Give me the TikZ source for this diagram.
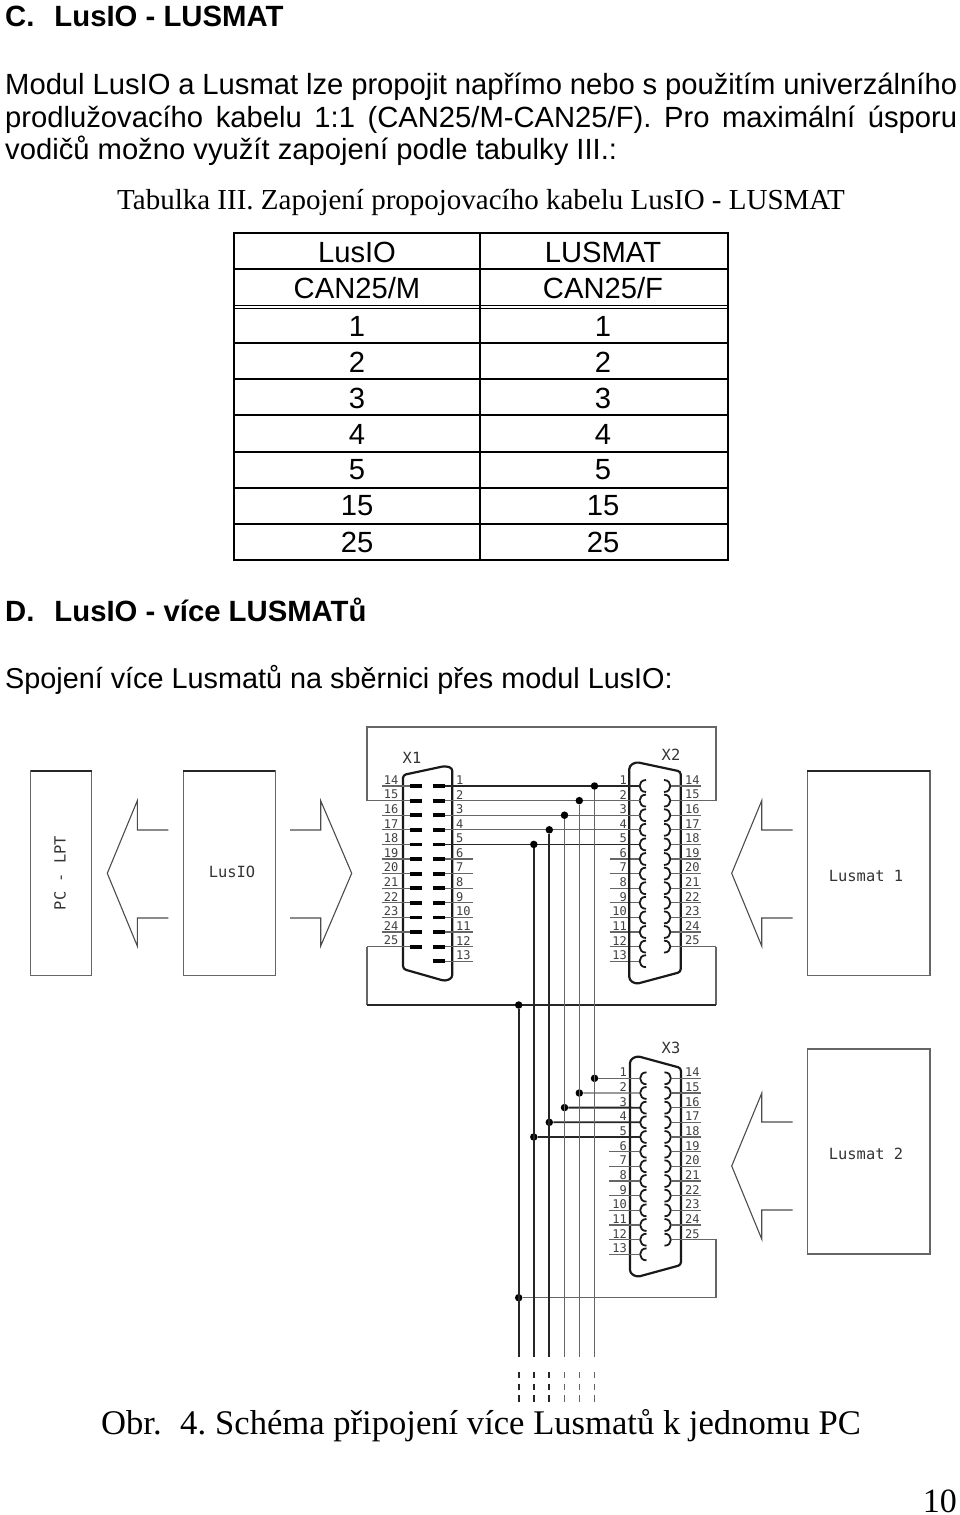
\documentclass[tikz,border=0pt]{standalone}
\usepackage{fontspec}
\setmainfont{Liberation Sans}
\newfontfamily\romanfont{Liberation Serif}
\newfontfamily\cadfont{DejaVu Sans Mono}
\usetikzlibrary{shapes,arrows,positioning}
\definecolor{wiregray}{gray}{0.4}
\tikzstyle{line} = [draw, line width=1.2pt, color=wiregray]
\tikzstyle{wire} = [draw, line width=1.8pt, color=black!85]
\tikzstyle{shell} = [draw, line width=2.2pt, rounded corners=3pt, color=black!90]
\tikzstyle{pad} = [draw, line width=3.8pt, color=black]
\tikzstyle{socket} = [draw, line width=1.8pt, color=black!90]
\tikzstyle{junction} = [circle, fill, inner sep=0pt, minimum size=7.5pt, color=black]
\tikzstyle{module} = [draw, line width=1.1pt, color=wiregray]
\tikzstyle{sharp} = [draw, line width=1.1pt, color=black!70]
\tikzstyle{body} = [anchor=base west, inner sep=0pt, font=\fontsize{29.2}{34}\selectfont]
\tikzstyle{head} = [anchor=base west, inner sep=0pt, font=\fontsize{29.3}{34}\selectfont\bfseries]
\tikzstyle{cell} = [inner sep=0pt, font=\fontsize{29.2}{34}\selectfont]
\tikzstyle{rule} = [draw, line width=2.3pt, color=black]
\tikzstyle{pinno} = [inner sep=0pt, font=\cadfont\fontsize{12}{12}\selectfont, color=black!75]
\tikzstyle{cadtext} = [inner sep=0pt, font=\cadfont\fontsize{15.4}{15.4}\selectfont, color=black!80]
\begin{document}
\begin{tikzpicture}[x=1pt, y=-1pt]
	\useasboundingbox (0,0) rectangle (960,1515);

	% text above the table
	\node [head] (titleC) at (5,26) {C.\hspace{20pt}LusIO - LUSMAT};
	\node [body] (para1) at (5,94) {\makebox[952pt][s]{Modul LusIO a Lusmat lze propojit napřímo nebo s použitím univerzálního}};
	\node [body] (para2) at (5,127) {\makebox[952pt][s]{prodlužovacího kabelu 1:1 (CAN25/M-CAN25/F). Pro maximální úsporu}};
	\node [body] (para3) at (5,159) {vodičů možno využít zapojení podle tabulky III.:};
	\node [anchor=base west, inner sep=0pt, font=\romanfont\fontsize{29}{34}\selectfont] (tabcap) at (117,209) {Tabulka III. Zapojení propojovacího kabelu LusIO - LUSMAT};

	% table
	\path [rule] (234,233) rectangle (728,560);
	\path [rule] (480,233) -- (480,560);
	\foreach \rowy in {269,343,379,415,452,488,524}
		\path [rule] (234,\rowy) -- (728,\rowy);
	\path [draw, line width=1pt] (234,305) -- (728,305);
	\path [draw, line width=1pt] (234,308) -- (728,308);
	\node [cell] (io1) at (357,252) {LusIO};
	\node [cell] (mat1) at (603,252) {LUSMAT};
	\node [cell] (io2) at (357,288) {CAN25/M};
	\node [cell] (mat2) at (603,288) {CAN25/F};
	\foreach \val/\rowy in {1/326,2/362,3/398,4/434,5/470,15/506,25/542} {
		\node [cell] (iov\val) at (357,\rowy) {\val};
		\node [cell] (matv\val) at (603,\rowy) {\val};
	}

	\node [head] (titleD) at (5,621) {D.\hspace{20pt}LusIO - více LUSMATů};
	\node [body, font=\fontsize{28.8}{34}\selectfont] (para4) at (5,688) {Spojení více Lusmatů na sběrnici přes modul LusIO:};

	% PC and LusIO
	\path [module] (30.7,771) rectangle (91.7,975.7);
	\path [wire] (30.7,771) -- (91.7,771);
	\node [cadtext, rotate=90] (pc) at (60,873) {PC - LPT};
	\path [module] (183.3,771) rectangle (275.3,975.7);
	\path [wire] (183.3,771) -- (275.3,771);
	\node [cadtext] (lusio) at (232,872) {LusIO};

	% Lusmat boxes
	\path [module] (807.3,771) rectangle (930,975.7);
	\path [wire] (807.3,771) -- (930,771);
	\node [cadtext] (lusmatA) at (866,876) {Lusmat 1};
	\path [module] (807.3,1049) rectangle (930,1254);
	\node [cadtext] (lusmatB) at (866,1154) {Lusmat 2};

	% big arrows
	\path [sharp] (168.3,830) -- (137.3,830) -- (137.3,800.7) -- (107.3,873.3) -- (137.3,946) -- (137.3,918) -- (168.3,918);
	\path [sharp] (290,830) -- (320.7,830) -- (320.7,800.7) -- (351.7,873.3) -- (320.7,946) -- (320.7,918) -- (290,918);
	\path [sharp] (792.7,830) -- (761.7,830) -- (761.7,800.7) -- (731.7,873.3) -- (761.7,946) -- (761.7,918) -- (792.7,918);
	\path [sharp] (792.7,1122) -- (761.7,1122) -- (761.7,1093.3) -- (731.7,1166) -- (761.7,1239) -- (761.7,1210) -- (792.7,1210);

	% frame round X1 and X2
	\coordinate (frameTL) at (367,727);
	\coordinate (frameTR) at (716,727);
	\coordinate (frameBL) at (367,1005);
	\coordinate (frameBR) at (716,1005);
	\coordinate (frameL15) at (367,800.6);
	\coordinate (frameR15) at (716,800.6);
	\coordinate (frameL25) at (367,946.6);
	\coordinate (frameR25) at (716,946.6);
	\path [line] (frameL15) -- (frameTL) -- (frameTR) -- (frameR15);
	\path [line] (frameL25) -- (frameBL);
	\path [line] (frameBR) -- (frameR25);
	\path [wire, line width=1.5pt] (frameBL) -- (frameBR);
	\path [line] (frameL15) -- (381.7,800.6);
	\path [line] (frameR15) -- (700.7,800.6);
	\path [line] (frameL25) -- (381.7,946.6);
	\path [line] (frameR25) -- (700.7,946.6);

	% X1
	\node [cadtext] (x1) at (412,758) {X1};
	\path [shell] (403,850) -- (403,775) -- (445,766) -- (452.3,768) -- (452.3,978) -- (445,981) -- (403,969) -- cycle;
	\foreach \n [evaluate=\n as \rowy using 786+14.6*(\n-1)] in {1,...,13} {
		\path [pad] (432.7,\rowy) -- (445,\rowy);
		\node [pinno, anchor=west] (xa\n) at (456,\rowy-6) {\n};
		\coordinate (xaw\n) at (445,\rowy);
		\coordinate (xbw\n) at (639.5,\rowy);
	}
	\foreach \n [evaluate=\n as \rowy using 786+14.6*(\n-1), evaluate=\n as \pin using int(\n+13)] in {1,...,12} {
		\path [pad] (410,\rowy) -- (421.7,\rowy);
		\path [line] (381.7,\rowy) -- (410,\rowy);
		\node [pinno] (xc\pin) at (391,\rowy-6) {\pin};
	}
	\foreach \n [evaluate=\n as \rowy using 786+14.6*(\n-1)] in {6,...,13} {
		\path [line] (xaw\n) -- ++(28,0);
		\path [line] (xbw\n) -- ++(-30,0);
	}

	% X2
	\node [cadtext] (x2) at (671,755) {X2};
	\path [shell] (629.3,850) -- (629.3,766) -- (636,762) -- (680.7,771.5) -- (680.7,972) -- (636,984) -- (629.3,980) -- cycle;
	\foreach \n [evaluate=\n as \rowy using 786+14.6*(\n-1)] in {1,...,13} {
		\path [socket] (646,\rowy-6) .. controls (637.5,\rowy-6) and (637.5,\rowy+6) .. (646,\rowy+6);
		\node [pinno, anchor=east] (xd\n) at (627,\rowy-6) {\n};
	}
	\foreach \n [evaluate=\n as \rowy using 786+14.6*(\n-1), evaluate=\n as \pin using int(\n+13)] in {1,...,12} {
		\path [socket] (664,\rowy-6) .. controls (672.5,\rowy-6) and (672.5,\rowy+6) .. (664,\rowy+6);
		\path [line] (670.5,\rowy) -- (700.7,\rowy);
		\node [pinno, anchor=west] (xe\pin) at (685,\rowy-6) {\pin};
	}

	% wires from X1 to X2 with the bus
	\path [wire] (xaw1) -- (xbw1);
	\path [line] (xaw2) -- (xbw2);
	\path [line] (xaw3) -- (xbw3);
	\path [line] (xaw4) -- (xbw4);
	\path [wire] (xaw5) -- (xbw5);
	\node [junction] (busA1) at (594.5,786) {};
	\node [junction] (busA2) at (579.3,800.6) {};
	\node [junction] (busA3) at (564.5,815.2) {};
	\node [junction] (busA4) at (549.3,829.8) {};
	\node [junction] (busA5) at (533.8,844.4) {};
	\node [junction] (busA0) at (518.7,1005) {};

	% X3
	\node [cadtext] (x3) at (671,1048) {X3};
	\path [shell] (630,1150) -- (630,1060) -- (637,1056) -- (681,1068) -- (681,1265) -- (637,1277) -- (630,1273) -- cycle;
	\foreach \n [evaluate=\n as \rowy using 1078.3+14.67*(\n-1)] in {1,...,13} {
		\path [socket] (646.5,\rowy-6) .. controls (638,\rowy-6) and (638,\rowy+6) .. (646.5,\rowy+6);
		\node [pinno, anchor=east] (xf\n) at (627,\rowy-6) {\n};
		\coordinate (xfw\n) at (640,\rowy);
	}
	\foreach \n [evaluate=\n as \rowy using 1078.3+14.67*(\n-1), evaluate=\n as \pin using int(\n+13)] in {1,...,12} {
		\path [socket] (664.5,\rowy-6) .. controls (673,\rowy-6) and (673,\rowy+6) .. (664.5,\rowy+6);
		\path [line] (671,\rowy) -- (701,\rowy);
		\node [pinno, anchor=west] (xg\pin) at (685,\rowy-6) {\pin};
	}
	\foreach \n in {6,...,13}
		\path [line] (xfw\n) -- ++(-30.7,0);
	\node [junction] (busB1) at (594.5,1078.3) {};
	\node [junction] (busB2) at (579.3,1093) {};
	\node [junction] (busB3) at (564.5,1107.6) {};
	\node [junction] (busB4) at (549.3,1122.3) {};
	\node [junction] (busB5) at (533.8,1137) {};
	\node [junction] (busB0) at (518.7,1297.7) {};
	\path [line] (busB1) -- (xfw1);
	\path [line] (busB2) -- (xfw2);
	\path [wire] (busB3) -- (xfw3);
	\path [wire] (busB4) -- (xfw4);
	\path [wire] (busB5) -- (xfw5);
	\coordinate (frameX3a) at (716,1239.7);
	\coordinate (frameX3b) at (716,1297.7);
	\path [line] (701,1239.7) -- (frameX3a) -- (frameX3b) -- (busB0);

	% six bus lines running down
	\foreach \name/\busx in {A0/518.7,A5/533.8,A4/549.3} {
		\coordinate (end\name) at (\busx,1357);
		\path [wire] (bus\name) -- (end\name);
		\path [wire] (\busx,1372) -- (\busx,1378);
		\path [wire] (\busx,1383.5) -- (\busx,1390);
		\path [wire] (\busx,1395) -- (\busx,1401.5);
	}
	\foreach \name/\busx in {A3/564.5,A2/579.3,A1/594.5} {
		\coordinate (end\name) at (\busx,1357);
		\path [line] (bus\name) -- (end\name);
		\path [line] (\busx,1372) -- (\busx,1378);
		\path [line] (\busx,1383.5) -- (\busx,1390);
		\path [line] (\busx,1395) -- (\busx,1401.5);
	}

	% caption and page number
	\node [anchor=base west, inner sep=0pt, font=\romanfont\fontsize{34.6}{40}\selectfont] (caption) at (101,1434) {Obr.\hspace{18.5pt}4.\hspace{9pt}Schéma připojení více Lusmatů k jednomu PC};
	\node [anchor=base east, inner sep=0pt, font=\romanfont\fontsize{34}{40}\selectfont] (pageno) at (957,1512) {10};
\end{tikzpicture}
\end{document}
